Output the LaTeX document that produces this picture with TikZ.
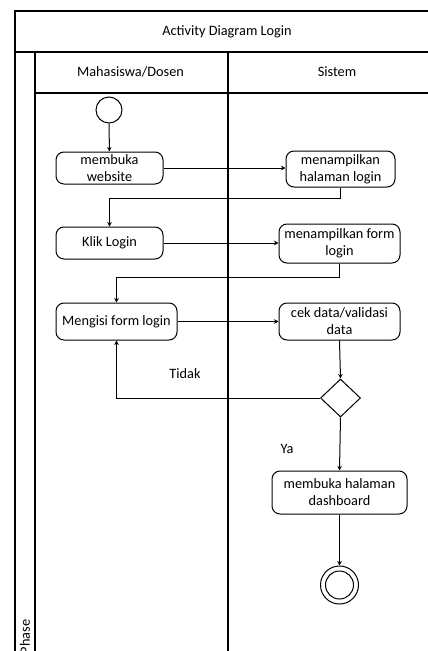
\documentclass[tikz,border=0pt]{standalone}
\usepackage{fontspec}
\setmainfont{Carlito}
\usetikzlibrary{arrows.meta,shapes.geometric}
\begin{document}
\begin{tikzpicture}[x=1pt,y=-1pt,
  font=\fontsize{14.3}{17}\selectfont,
  lane/.style={line width=1.1pt,draw=black},
  act/.style={draw=black,line width=1pt,rounded corners=8pt,align=center,inner sep=0pt,fill=white},
  flow/.style={line width=1pt,-{Stealth[length=4.5pt,width=4.5pt]}},
  lbl/.style={inner sep=0pt}]
\useasboundingbox (0,0) rectangle (428,651);
\clip (0,0) rectangle (428,651);
% frame and lanes
\draw[lane] (443,11) -- (15,11) -- (15,660);
\draw[lane] (15,52) -- (443,52);
\draw[lane] (35,93) -- (443,93);
\draw[lane] (35,52) -- (35,660);
\draw[lane] (228,52) -- (228,660);
\node[lbl] (title) at (227,32) {Activity Diagram Login};
\node[lbl] (lane1) at (130.5,72) {Mahasiswa/Dosen};
\node[lbl] (lane2) at (337,72) {Sistem};
\node[lbl,rotate=90] (phase) at (25,637) {Phase};
% nodes
\node[draw,circle,line width=1pt,minimum size=26pt,inner sep=0pt] (start) at (109,110) {};
\node[act,minimum width=107pt,minimum height=32pt] (n1) at (109.5,168) {membuka\\website};
\node[act,minimum width=109pt,minimum height=36pt] (n2) at (340.5,169) {menampilkan\\halaman login};
\node[act,minimum width=107pt,minimum height=32pt] (n3) at (109.5,243) {Klik Login};
\node[act,minimum width=121pt,minimum height=39pt] (n4) at (339.5,243.5) {menampilkan form\\login};
\node[act,minimum width=121pt,minimum height=37pt] (n5) at (116.5,321.5) {Mengisi form login};
\node[act,minimum width=121pt,minimum height=37pt] (n6) at (339.5,321.5) {cek data/validasi\\data};
\node[draw,diamond,line width=1pt,minimum width=40pt,minimum height=38pt,inner sep=0pt] (d) at (340.5,398) {};
\node[act,minimum width=135pt,minimum height=43pt] (n7) at (339.5,492.5) {membuka halaman\\dashboard};
\node[draw,circle,line width=1pt,minimum size=38pt,inner sep=0pt] (end) at (339.5,585) {};
\node[draw,circle,line width=1pt,minimum size=28pt,inner sep=0pt] (endin) at (end.center) {};
% labels
\node[lbl] (tidak) at (185,374) {Tidak};
\node[lbl] (ya) at (287,449) {Ya};
% connectors
\draw[flow] (start) -- (n1);
\draw[flow] (n1.east) -- (n1.east -| n2.west);
\draw[flow] (n2.south) -- ++(0,11) -| (n3.north);
\draw[flow] (n3.east) -- (n3.east -| n4.west);
\draw[flow] (n4.south) -- ++(0,14) -| (n5.north);
\draw[flow] (n5.east) -- (n5.east -| n6.west);
\draw[flow] (n6.south) -- (d.north);
\draw[flow] (d.west) -| (n5.south);
\draw[flow] (d.south) -- (n7.north);
\draw[flow] (n7.south) -- (end.north);
\end{tikzpicture}
\end{document}
